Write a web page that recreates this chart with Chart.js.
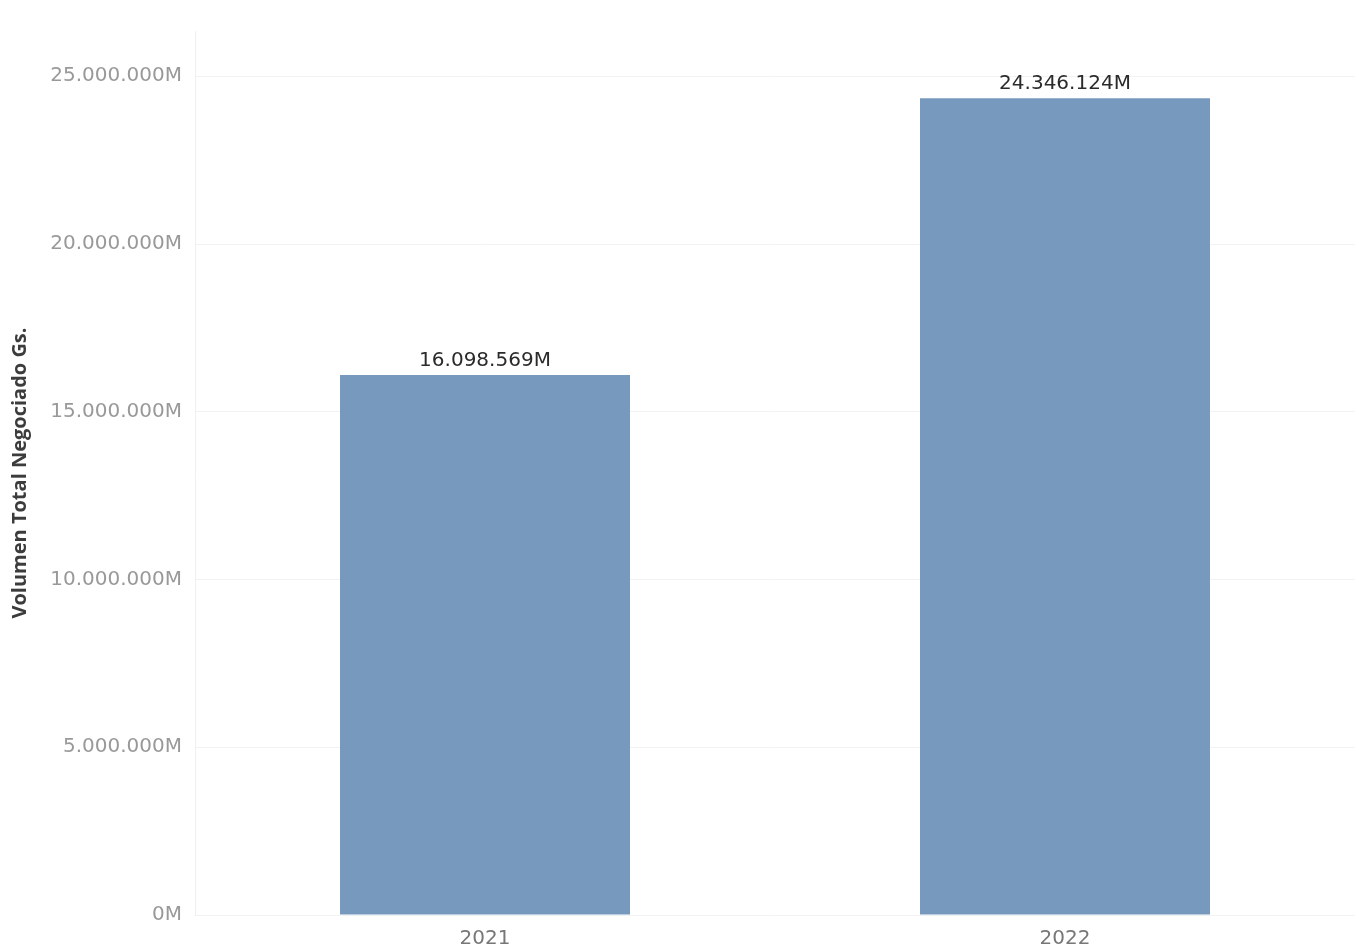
<!DOCTYPE html>
<html>
<head>
<meta charset="utf-8">
<script src="https://cdn.jsdelivr.net/npm/chart.js@4.4.1/dist/chart.umd.min.js"></script>
<style>
    html, body { margin: 0; padding: 0; background: #ffffff; }
    #wrap { width: 1359px; height: 950px; position: relative; }
</style>
</head>
<body>
<div id="wrap"><canvas id="volChart"></canvas></div>
<script>
// datos (valores en millones)
const years = ['2021', '2022'];
const volumen = [16098569, 24346124];
const yTicks = [0, 5000000, 10000000, 15000000, 20000000, 25000000];

// formato con punto como separador de miles
function fmtM(v) {
    return String(Math.round(v)).replace(/\B(?=(\d{3})+(?!\d))/g, '.') + 'M';
}

// etiquetas encima de las barras
const barLabels = {
    id: 'barLabels',
    afterDatasetsDraw(chart) {
        const ctx = chart.ctx;
        const meta = chart.getDatasetMeta(0);
        ctx.save();
        ctx.font = '20px "DejaVu Sans"';
        ctx.fillStyle = '#2b2b2b';
        ctx.textAlign = 'center';
        ctx.textBaseline = 'bottom';
        meta.data.forEach(function(bar, i) {
            ctx.fillText(fmtM(volumen[i]), bar.x, bar.y - 4);
        });
        ctx.restore();
    }
};

const ctx = document.getElementById('volChart').getContext('2d');
new Chart(ctx, {
    type: 'bar',
    data: {
        labels: years,
        datasets: [{
            data: volumen,
            backgroundColor: '#7799bd',
            borderWidth: 0,
            barPercentage: 0.5,
            categoryPercentage: 1.0
        }]
    },
    options: {
        responsive: true,
        maintainAspectRatio: false,
        animation: false,
        layout: { padding: { top: 31, right: 4, left: 8, bottom: 0 } },
        plugins: {
            legend: { display: false },
            tooltip: { enabled: false }
        },
        scales: {
            x: {
                grid: { display: false },
                border: { display: false },
                ticks: {
                    color: '#777777',
                    font: { family: 'DejaVu Sans', size: 20 },
                    padding: 4
                },
                afterFit: function(axis) { axis.height = 35; }
            },
            y: {
                min: 0,
                max: 26350000,
                afterBuildTicks: function(axis) {
                    axis.ticks = yTicks.map(function(v) { return { value: v }; });
                },
                grid: { color: '#f2f2f2', lineWidth: 1, drawTicks: false },
                border: { display: true, color: '#f0f0f0' },
                ticks: {
                    color: '#999999',
                    font: { family: 'DejaVu Sans', size: 20 },
                    padding: 13,
                    callback: function(v) { return fmtM(v); }
                },
                title: {
                    display: true,
                    text: 'Volumen Total Negociado Gs.',
                    color: '#3c3c3c',
                    font: { family: 'Open Sans', size: 20, weight: 'bold' },
                    padding: { top: 0, bottom: 0 }
                },
                afterFit: function(axis) { axis.width = 187; }
            }
        }
    },
    plugins: [barLabels]
});
</script>
</body>
</html>
